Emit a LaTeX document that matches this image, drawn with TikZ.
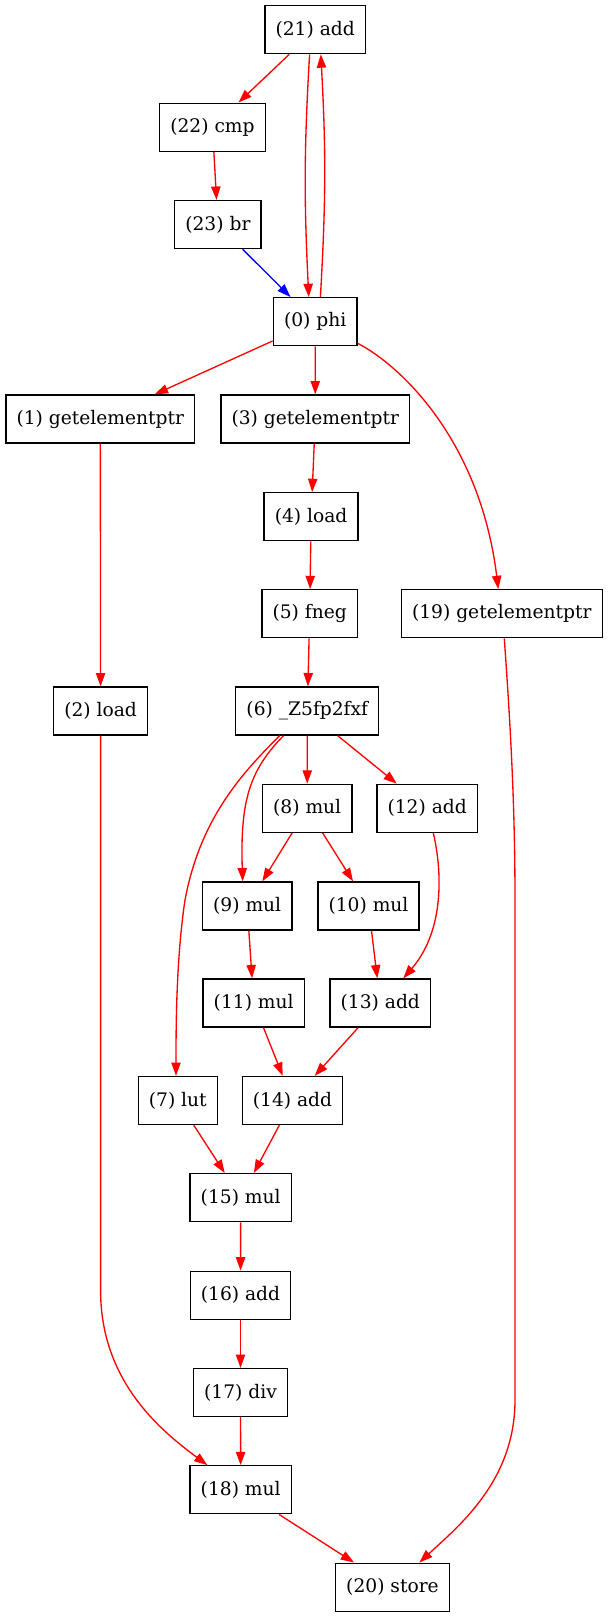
\documentclass[tikz,border=0pt]{standalone}
\usepackage{fontspec}
\setmainfont{DejaVu Serif}
\usetikzlibrary{arrows.meta,calc}
\begin{document}
\begin{tikzpicture}[x=0.75pt,y=-0.75pt,
  box/.style={draw=black,line width=1pt,rectangle,inner xsep=8pt,inner ysep=2pt,minimum height=36pt,font=\fontsize{14pt}{16pt}\selectfont},
  dep/.style={draw=red,line width=1pt,-{Triangle[length=10pt,width=7pt]}},
  ctl/.style={draw=blue,line width=1pt,-{Triangle[length=10pt,width=7pt]}}]
\useasboundingbox (0,0) rectangle (609,1617);

\node[box] (n21) at (315.2,29.7) {(21) add};
\node[box] (n22) at (212.5,127.2) {(22) cmp};
\node[box] (n23) at (217.9,224.5) {(23) br};
\node[box] (n0) at (315.2,321.7) {(0) phi};
\node[box] (n1) at (100.3,419) {(1) getelementptr};
\node[box] (n3) at (315.3,419) {(3) getelementptr};
\node[box] (n4) at (311.1,516.7) {(4) load};
\node[box] (n5) at (309.7,613.8) {(5) fneg};
\node[box] (n19) at (501.8,613.8) {(19) getelementptr};
\node[box] (n2) at (100.6,711) {(2) load};
\node[box] (n6) at (307.3,711) {(6) \_Z5fp2fxf};
\node[box] (n8) at (307.2,808.3) {(8) mul};
\node[box] (n12) at (427.2,808.3) {(12) add};
\node[box] (n9) at (247.2,906) {(9) mul};
\node[box] (n10) at (368.5,906) {(10) mul};
\node[box] (n11) at (253.7,1003) {(11) mul};
\node[box] (n13) at (380.3,1003) {(13) add};
\node[box] (n7) at (177.8,1100.5) {(7) lut};
\node[box] (n14) at (292.5,1100.5) {(14) add};
\node[box] (n15) at (240.7,1197.7) {(15) mul};
\node[box] (n16) at (240.5,1295.2) {(16) add};
\node[box] (n17) at (240.5,1392.5) {(17) div};
\node[box] (n18) at (240.7,1489.8) {(18) mul};
\node[box] (n20) at (392.5,1587.2) {(20) store};

% top loop
\draw[dep] (n21) -- (n22);
\draw[dep] ($(n21.south)+(-5.6,0)$) .. controls (304,150) and (304,200) .. ($(n0.north)+(-6.4,0)$);
\draw[dep] ($(n0.north)+(5.2,0)$) .. controls (326,200) and (326,150) .. ($(n21.south)+(5.6,0)$);
\draw[dep] (n22) -- (n23);
\draw[ctl] (n23) -- (n0);

% from phi
\draw[dep] (n0) -- (n1);
\draw[dep] (n0) -- (n3);
\draw[dep] ($(n0.south east)+(0,-3)$) .. controls (400,365) and (480,440) .. ($(n19.north)+(-3.5,0)$);

\draw[dep] (n1) -- (n2);
\draw[dep] (n3) -- (n4);
\draw[dep] (n4) -- (n5);
\draw[dep] (n5) -- (n6);

% from (6)
\draw[dep] ($(n6.south)+(-27.6,0)$) .. controls (240,775) and (200,820) .. (185,900) .. controls (176,960) and (176,1030) .. ($(n7.north)+(-1.8,0)$);
\draw[dep] ($(n6.south)+(-23.8,0)$) .. controls (250,770) and (240,800) .. ($(n9.north)+(-4.5,0)$);
\draw[dep] (n6) -- (n8);
\draw[dep] (n6) -- (n12);

\draw[dep] (n8) -- (n9);
\draw[dep] (n8) -- (n10);
\draw[dep] ($(n12.south)+(6.1,0)$) .. controls (442,870) and (445,930) .. ($(n13.north)+(23,0)$);
\draw[dep] (n9) -- (n11);
\draw[dep] (n10) -- (n13);
\draw[dep] (n11) -- (n14);
\draw[dep] (n13) -- (n14);
\draw[dep] (n7) -- (n15);
\draw[dep] (n14) -- (n15);
\draw[dep] (n15) -- (n16);
\draw[dep] (n16) -- (n17);
\draw[dep] (n17) -- (n18);

% long edges
\draw[dep] (n2.south) -- ++(0,555) .. controls +(0,90) and (160,1430) .. (n18);
\draw[dep] ($(n19.south)+(2.5,0)$) .. controls (510,720) and (515,800) .. (515,900) -- (515,1400) .. controls (515,1480) and (460,1525) .. ($(n20.north)+(26.8,0)$);
\draw[dep] (n18) -- (n20);
\end{tikzpicture}
\end{document}
